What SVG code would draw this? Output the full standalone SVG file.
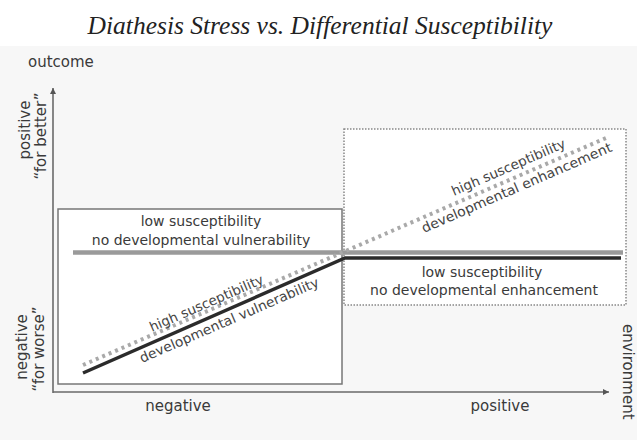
<svg xmlns="http://www.w3.org/2000/svg" width="637" height="440" viewBox="0 0 637 440">
<defs>
<style>
.t{font-family:"DejaVu Sans","Liberation Sans",sans-serif;fill:#3a3a3a}
.b{font-size:14px;text-anchor:middle}
.r{font-size:13.5px;fill:#444}
.ax{font-size:15px}
.axis{stroke:#6a6a6a;stroke-width:1.6;fill:none}
</style>
<marker id="ah" markerWidth="8" markerHeight="8" refX="6" refY="3" orient="auto" markerUnits="userSpaceOnUse">
<path d="M0,0 L6,3 L0,6 Z" fill="#555"/>
</marker>
</defs>
<rect x="0" y="0" width="637" height="440" fill="#ffffff"/>
<rect x="0" y="46" width="637" height="394" fill="#f7f7f7"/>
<text x="320" y="34" text-anchor="middle" font-family="Liberation Serif,serif" font-style="italic" font-size="25.5" fill="#222">Diathesis Stress vs. Differential Susceptibility</text>

<g id="axes">
<line class="axis" x1="53" y1="393" x2="53" y2="88" marker-end="url(#ah)"/>
<line class="axis" x1="53" y1="392" x2="609" y2="392" marker-end="url(#ah)"/>
<text class="t ax" x="28" y="67">outcome</text>
<text class="t ax" x="178" y="411" text-anchor="middle" font-size="16">negative</text>
<text class="t ax" x="500" y="411" text-anchor="middle" font-size="16">positive</text>
<text class="t ax" transform="translate(623,324) rotate(90)">environment</text>
<text class="t ax" text-anchor="middle" transform="translate(30,130) rotate(-90)">positive</text>
<text class="t ax" text-anchor="middle" transform="translate(46,136) rotate(-90)">“for better”</text>
<text class="t ax" text-anchor="middle" transform="translate(27,347) rotate(-90)">negative</text>
<text class="t ax" text-anchor="middle" transform="translate(44,349) rotate(-90)">“for worse”</text>
</g>

<g id="box-left">
<rect x="58" y="209" width="284" height="175" fill="#ffffff" stroke="#777" stroke-width="1.5"/>
<text class="t b" x="201" y="226">low susceptibility</text>
<text class="t b" x="201" y="245">no developmental vulnerability</text>
</g>

<g id="box-right">
<rect x="344" y="129" width="282" height="176" fill="#ffffff" stroke="#888" stroke-width="1.5" stroke-dasharray="1.5 1.5"/>
<text class="t b" x="482" y="277">low susceptibility</text>
<text class="t b" x="484" y="295">no developmental enhancement</text>
</g>

<g id="connectors">
<line x1="73" y1="252.5" x2="623" y2="252.5" stroke="#9a9a9a" stroke-width="4.5"/>
<polyline points="83,373 345,258 621,258" fill="none" stroke="#2b2b2b" stroke-width="3.5"/>
<line x1="83" y1="365" x2="606" y2="138" stroke="#a9a9a9" stroke-width="4" stroke-dasharray="3 4"/>
</g>

<g id="line-labels">
<text class="t r" transform="translate(152,332) rotate(-23.5)">high susceptibility</text>
<text class="t r" transform="translate(142,363) rotate(-23.5)" textLength="194" lengthAdjust="spacingAndGlyphs">developmental vulnerability</text>
<text class="t r" transform="translate(454,196) rotate(-23.5)">high susceptibility</text>
<text class="t r" transform="translate(424,233) rotate(-23.5)" textLength="206" lengthAdjust="spacingAndGlyphs">developmental enhancement</text>
</g>
</svg>
